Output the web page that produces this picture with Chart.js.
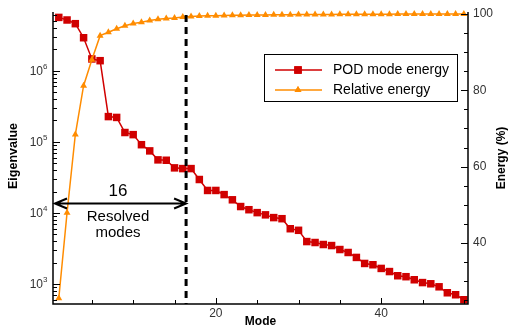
<!DOCTYPE html>
<html>
<head>
<meta charset="utf-8">
<script src="https://cdn.jsdelivr.net/npm/chart.js@4.4.1/dist/chart.umd.min.js"></script>
<style>
  html, body { margin: 0; padding: 0; background: #fff; }
  #wrap { width: 512px; height: 329px; }
</style>
</head>
<body>
<div id="wrap"><canvas id="chart" width="512" height="329"></canvas></div>
<script>
// data
const modes = [1, 2, 3, 4, 5, 6, 7, 8, 9, 10, 11, 12, 13, 14, 15, 16, 17, 18, 19, 20,
  21, 22, 23, 24, 25, 26, 27, 28, 29, 30, 31, 32, 33, 34, 35, 36, 37, 38, 39, 40,
  41, 42, 43, 44, 45, 46, 47, 48, 49, 50];
const podEnergy = [5.6e6, 5.15e6, 4.57e6, 2.9e6, 1.46e6, 1.38e6, 2.26e5, 2.2e5, 1.35e5, 1.26e5,
  9.1e4, 7.45e4, 5.57e4, 5.5e4, 4.3e4, 4.2e4, 4.2e4, 2.95e4, 2.07e4, 2.07e4,
  1.81e4, 1.53e4, 1.23e4, 1.11e4, 1.01e4, 9.4e3, 8.6e3, 8.3e3, 6.0e3, 5.7e3,
  3.96e3, 3.84e3, 3.6e3, 3.48e3, 3.06e3, 2.78e3, 2.37e3, 1.95e3, 1.87e3, 1.66e3,
  1.5e3, 1.31e3, 1.27e3, 1.15e3, 1.05e3, 1.01e3, 916, 755, 708, 603];
const relEnergy = [25.5, 47.9, 68.4, 81.2, 88.0, 94.3, 95.2, 96.1, 96.9, 97.5,
  97.8, 98.25, 98.6, 98.8, 98.95, 99.2, 99.35, 99.45, 99.5, 99.55,
  99.6, 99.63, 99.66, 99.69, 99.72, 99.74, 99.76, 99.78, 99.8, 99.82,
  99.84, 99.85, 99.86, 99.87, 99.88, 99.89, 99.9, 99.91, 99.92, 99.93,
  99.94, 99.95, 99.95, 99.96, 99.96, 99.97, 99.97, 99.98, 99.98, 99.99];

const xTicks = [20, 40];
const leftTicks = [3, 4, 5, 6];      // powers of ten
const rightTicks = [40, 60, 80, 100];
const cutoffMode = 16.4;
const cutoffLabel = '16';
const noteLines = ['Resolved', 'modes'];
const seriesNames = ['POD mode energy', 'Relative energy'];

const RED = '#d00000';
const ORANGE = '#ff8c00';
const FONT = '"Liberation Sans", Arial, sans-serif';

//axes, ticks, labels, legend and annotation
const decor = {
  id: 'decor',
  afterDraw(chart) {
    const ctx = chart.ctx;
    const a = chart.chartArea;
    const sx = chart.scales.x, sy = chart.scales.y, sy2 = chart.scales.y2;
    ctx.save();

    // cutoff dashed line
    const cx = sx.getPixelForValue(cutoffMode);
    ctx.strokeStyle = '#000';
    ctx.lineWidth = 3;
    ctx.setLineDash([7, 5]);
    ctx.beginPath();
    ctx.moveTo(cx, a.top + 3);
    ctx.lineTo(cx, a.bottom);
    ctx.stroke();
    ctx.setLineDash([]);

    // frame
    ctx.lineWidth = 1.5;
    ctx.beginPath();
    ctx.moveTo(a.left, a.top);
    ctx.lineTo(a.left, a.bottom);
    ctx.lineTo(a.right, a.bottom);
    ctx.lineTo(a.right, a.top);
    ctx.stroke();

    // x ticks (inside)
    ctx.lineWidth = 1;
    for (let v = 5; v <= 50; v += 5) {
      const px = Math.round(sx.getPixelForValue(v)) + 0.5;
      const len = v % 20 === 0 ? 6 : 4;
      ctx.beginPath();
      ctx.moveTo(px, a.bottom);
      ctx.lineTo(px, a.bottom - len);
      ctx.stroke();
    }
    // left log ticks
    for (let e = 2; e <= 6; e++) {
      for (let m = 1; m <= 9; m++) {
        const v = m * Math.pow(10, e);
        if (v < sy.min || v > sy.max) continue;
        const py = Math.round(sy.getPixelForValue(v)) + 0.5;
        ctx.beginPath();
        ctx.moveTo(a.left, py);
        ctx.lineTo(a.left + (m === 1 ? 7 : 4), py);
        ctx.stroke();
      }
    }
    // right ticks
    for (let v = 25; v <= 100; v += 5) {
      const py = Math.round(sy2.getPixelForValue(v)) + 0.5;
      ctx.beginPath();
      ctx.moveTo(a.right, py);
      ctx.lineTo(a.right - (v % 20 === 0 ? 7 : 4), py);
      ctx.stroke();
    }

    // tick labels
    ctx.fillStyle = '#333';
    ctx.font = '12px ' + FONT;
    ctx.textAlign = 'center';
    ctx.textBaseline = 'middle';
    xTicks.forEach(v => ctx.fillText(String(v), sx.getPixelForValue(v), a.bottom + 10));
    ctx.textAlign = 'left';
    rightTicks.forEach(v => ctx.fillText(String(v), a.right + 5, sy2.getPixelForValue(v)));
    leftTicks.forEach(e => {
      const py = sy.getPixelForValue(Math.pow(10, e));
      ctx.font = '12px ' + FONT;
      ctx.textAlign = 'right';
      ctx.fillText('10', a.left - 10, py + 1);
      ctx.font = '8px ' + FONT;
      ctx.textAlign = 'left';
      ctx.fillText(String(e), a.left - 10, py - 4);
    });

    // axis titles
    ctx.fillStyle = '#000';
    ctx.font = 'bold 12px ' + FONT;
    ctx.textAlign = 'center';
    ctx.fillText('Mode', (a.left + a.right) / 2, 322);
    ctx.save();
    ctx.translate(14, 156);
    ctx.rotate(-Math.PI / 2);
    ctx.font = 'bold 12.5px ' + FONT;
    ctx.fillText('Eigenvalue', 0, 0);
    ctx.restore();
    ctx.save();
    ctx.translate(502, 158);
    ctx.rotate(-Math.PI / 2);
    ctx.fillText('Energy (%)', 0, 0);
    ctx.restore();

    // double arrow + note
    const ay = 203.5;
    ctx.strokeStyle = '#000';
    ctx.lineWidth = 2;
    ctx.beginPath();
    ctx.moveTo(a.left + 2, ay);
    ctx.lineTo(cx, ay);
    ctx.moveTo(a.left + 14, ay - 5);
    ctx.lineTo(a.left + 2, ay);
    ctx.lineTo(a.left + 14, ay + 5);
    ctx.moveTo(cx - 12, ay - 5);
    ctx.lineTo(cx, ay);
    ctx.lineTo(cx - 12, ay + 5);
    ctx.stroke();
    ctx.font = '17px ' + FONT;
    ctx.fillText(cutoffLabel, 118, 191);
    ctx.font = '15px ' + FONT;
    ctx.fillText(noteLines[0], 118, 217);
    ctx.fillText(noteLines[1], 118, 233);

    // legend box
    ctx.fillStyle = '#fff';
    ctx.fillRect(264, 54, 193, 47);
    ctx.lineWidth = 1;
    ctx.strokeRect(264.5, 54.5, 193, 47);
    const items = [[RED, 'rect', 5.3, 70], [ORANGE, 'triangle', 4, 90]];
    items.forEach((it, i) => {
      ctx.strokeStyle = it[0];
      ctx.lineWidth = 1.5;
      ctx.beginPath();
      ctx.moveTo(275, it[3]);
      ctx.lineTo(322, it[3]);
      ctx.stroke();
      ctx.fillStyle = it[0];
      Chart.helpers.drawPoint(ctx, { pointStyle: it[1], radius: it[2], borderWidth: 0 }, 298, it[3]);
      ctx.fill();
      ctx.fillStyle = '#000';
      ctx.font = '14px ' + FONT;
      ctx.textAlign = 'left';
      ctx.fillText(seriesNames[i], 333, it[3]);
    });
    ctx.restore();
  }
};

const ctx = document.getElementById('chart').getContext('2d');
const chart = new Chart(ctx, {
  type: 'line',
  data: {
    datasets: [{
      label: seriesNames[0],
      data: modes.map((m, i) => ({ x: m, y: podEnergy[i] })),
      yAxisID: 'y',
      order: 1,
      borderColor: RED,
      backgroundColor: RED,
      borderWidth: 1.5,
      pointStyle: 'rect',
      pointRadius: 5.3,
      pointBorderWidth: 0,
      tension: 0
    }, {
      label: seriesNames[1],
      data: modes.map((m, i) => ({ x: m, y: relEnergy[i] })),
      yAxisID: 'y2',
      order: 0,
      borderColor: ORANGE,
      backgroundColor: ORANGE,
      borderWidth: 1.5,
      pointStyle: 'triangle',
      pointRadius: 4,
      pointBorderWidth: 0,
      tension: 0
    }]
  },
  options: {
    responsive: false,
    animation: false,
    clip: false,
    layout: { padding: { left: 53, right: 44, top: 12, bottom: 25 } },
    plugins: { legend: { display: false }, tooltip: { enabled: false } },
    scales: {
      x: {
        type: 'linear', min: 0.3, max: 50.5,
        grid: { display: false, drawTicks: false }, border: { display: false },
        ticks: { display: false }
      },
      y: {
        type: 'logarithmic', position: 'left', min: 525, max: 6.67e6,
        grid: { display: false, drawTicks: false }, border: { display: false },
        ticks: { display: false }
      },
      y2: {
        type: 'linear', position: 'right', min: 24, max: 100.5,
        grid: { display: false, drawTicks: false }, border: { display: false },
        ticks: { display: false }
      }
    }
  },
  plugins: [decor]
});
</script>
</body>
</html>
